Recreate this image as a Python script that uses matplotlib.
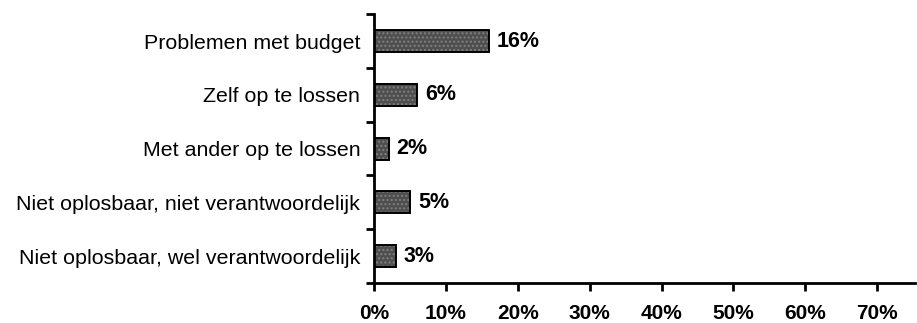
import matplotlib.pyplot as plt
import numpy as np
from matplotlib.ticker import FixedLocator, PercentFormatter

categories = [
    "Problemen met budget",
    "Zelf op te lossen",
    "Met ander op te lossen",
    "Niet oplosbaar, niet verantwoordelijk",
    "Niet oplosbaar, wel verantwoordelijk",
]
values = [16, 6, 2, 5, 3]
xticks = [0, 10, 20, 30, 40, 50, 60, 70]

plt.rcParams["font.family"] = ["Liberation Sans", "DejaVu Sans"]

fig = plt.figure(figsize=(9.17, 3.23), dpi=100)
ax = fig.add_axes([0.408, 0.124, 0.590, 0.832])

y = np.arange(len(categories))
bars = ax.barh(y, values, height=0.41, color="#4e4e4e", edgecolor="black",
               linewidth=1.4, hatch="....")
# lichtere spikkels in de balken
for b in bars:
    b._hatch_color = (0.5, 0.5, 0.5, 1)

for yi, v in zip(y, values):
    ax.text(v + 1.1, yi, f"{v}%", va="center", ha="left",
            fontsize=15.5, fontweight="bold")

ax.set_ylim(len(categories) - 0.5, -0.5)
ax.set_xlim(0, 75.3)
ax.set_yticks(y)
ax.set_yticklabels(categories, fontsize=15.4)
ax.tick_params(axis="y", which="major", length=0, pad=10)
ax.yaxis.set_minor_locator(FixedLocator(np.arange(-0.5, len(categories), 1)))
ax.tick_params(axis="y", which="minor", length=6, width=2, direction="out")

ax.set_xticks(xticks)
ax.xaxis.set_major_formatter(PercentFormatter(decimals=0))
ax.tick_params(axis="x", length=6, width=2, direction="out", pad=9,
               labelsize=15)
for lbl in ax.get_xticklabels():
    lbl.set_fontweight("bold")

ax.spines["top"].set_visible(False)
ax.spines["right"].set_visible(False)
ax.spines["left"].set_linewidth(2)
ax.spines["bottom"].set_linewidth(2)

fig.savefig("out.png", dpi=100)
